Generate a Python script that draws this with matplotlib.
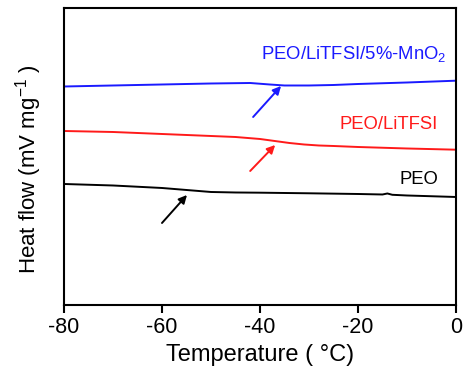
import numpy as np
import matplotlib.pyplot as plt

plt.rcParams["font.family"] = ["Liberation Sans", "DejaVu Sans"]
plt.rcParams["axes.unicode_minus"] = False
plt.rcParams["mathtext.fontset"] = "custom"
plt.rcParams["mathtext.rm"] = "Liberation Sans"
plt.rcParams["mathtext.default"] = "rm"

# DSC traces (arbitrary heat flow units, curves offset vertically)
t_blue = [-80, -70, -60, -50, -42, -38, -35, -30, -25, -20, -10, 0]
hf_blue = [21.85, 21.95, 22.05, 22.15, 22.2, 22.05, 21.95, 21.95, 22.0, 22.1, 22.25, 22.43]

t_red = [-80, -70, -60, -50, -45, -40, -37, -34, -31, -28, -25, -20, -10, 0]
hf_red = [17.4, 17.3, 17.1, 16.9, 16.8, 16.6, 16.4, 16.2, 16.05, 15.95, 15.9, 15.8, 15.65, 15.53]

t_black = [-80, -70, -60, -55, -50, -45, -40, -30, -20, -15, -14, -13, -10, 0]
hf_black = [12.1, 11.95, 11.7, 11.5, 11.3, 11.25, 11.23, 11.17, 11.1, 11.05, 11.15, 11.02, 10.95, 10.8]

labels = ["PEO/LiTFSI/5%-MnO$_2$", "PEO/LiTFSI", "PEO"]
label_pos = [(-2.0, 25.07), (-3.8, 18.07), (-3.6, 12.57)]
arrow_tails = [(-41.4, 18.8), (-42.0, 13.4), (-60.0, 8.2)]
arrow_heads = [(-35.7, 21.9), (-36.9, 16.0), (-54.9, 11.0)]
colors = ["#1a1aff", "#ff1a1a", "black"]

fig = plt.figure(figsize=(4.66, 3.79), dpi=100)
ax = fig.add_axes([0.1373, 0.1953, 0.8412, 0.7836])

ax.plot(t_blue, hf_blue, color=colors[0], lw=1.4)
ax.plot(t_red, hf_red, color=colors[1], lw=1.4)
ax.plot(t_black, hf_black, color=colors[2], lw=1.4)

for lab, (x, y), c in zip(labels, label_pos, colors):
    ax.text(x, y, lab, color=c, fontsize=13.3, ha="right", va="center")

for tail, head, c in zip(arrow_tails, arrow_heads, colors):
    ax.annotate("", xy=head, xytext=tail,
                arrowprops=dict(arrowstyle="-|>", color=c, lw=1.4,
                                mutation_scale=12, shrinkA=0, shrinkB=0))

ax.set_xlim(-80, 0)
ax.set_ylim(0, 29.7)
ax.set_xticks([-80, -60, -40, -20, 0])
ax.set_yticks([])
ax.tick_params(axis="x", direction="out", length=6, width=1.5, labelsize=15.5, pad=3)
for s in ax.spines.values():
    s.set_linewidth(1.5)

ax.set_xlabel("Temperature ( °C)", fontsize=17, labelpad=4)
ax.set_ylabel("Heat flow (mV mg$^{-1}$ )", fontsize=16)
ax.yaxis.set_label_coords(-0.05, 0.458)

fig.savefig("out.png", dpi=100)
